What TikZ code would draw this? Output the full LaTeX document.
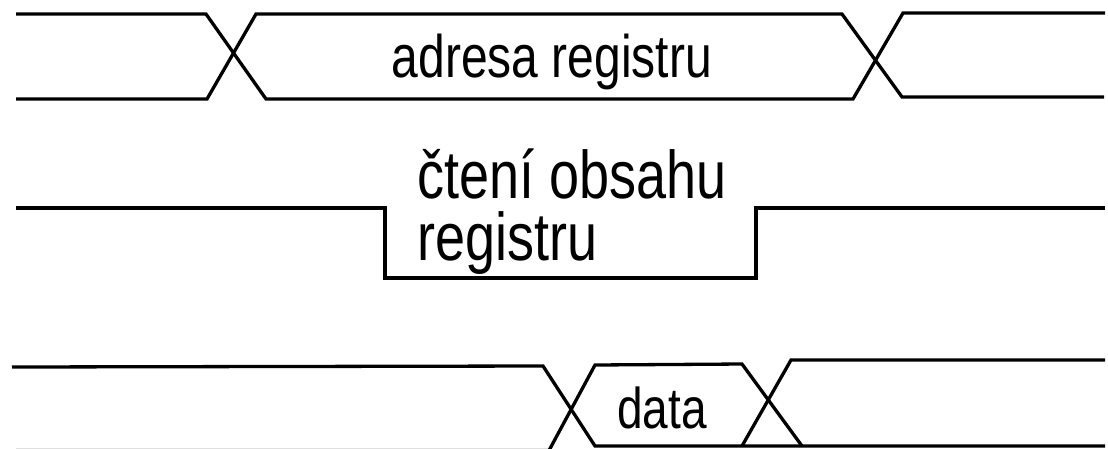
\documentclass[tikz,border=0pt]{standalone}
\usepackage{fontspec}
\setmainfont{Liberation Sans}
\newcommand{\tallt}[1]{\scalebox{1}[1.25]{#1}}
\begin{document}
\begin{tikzpicture}[x=1pt,y=-1pt,
  wave/.style={line width=3.3pt,line join=miter,black},
  lbl/.style={inner sep=0pt,font=\fontsize{48}{56}\selectfont}]
\useasboundingbox (0,0) rectangle (1108,448);
\clip (0,0) rectangle (1108,448);
% signal 1: address bus
\draw[wave] (16,14) -- (206,14) -- (266,99) -- (853,99) -- (903,13) -- (1105,13);
\draw[wave] (16,99) -- (207,99) -- (256,14) -- (842,14) -- (902,97) -- (1104,97);
\node[lbl] (addr) at (552,62) {\tallt{adresa registru}};
% signal 2: read strobe
\draw[wave] (16,208) -- (385,208) -- (385,278) -- (756,278) -- (756,208) -- (1105,208);
\node[lbl,anchor=west,font=\fontsize{54}{60}\selectfont] (rd1) at (417,174) {\tallt{čtení obsahu}};
\node[lbl,anchor=west,font=\fontsize{54}{60}\selectfont] (rd2) at (417,243) {\tallt{registru}};
% signal 3: data bus
\draw[wave] (12,367) -- (543,366) -- (595,446) -- (802,446) -- (1105,446);
\draw[wave] (742,446) -- (791,360) -- (1105,360);
\draw[wave] (16,450.5) -- (549,450.5) -- (595,365) -- (742,364) -- (802,446);
\node[lbl,font=\fontsize{46}{54}\selectfont] (data) at (662,408) {\tallt{data}};
\end{tikzpicture}
\end{document}
